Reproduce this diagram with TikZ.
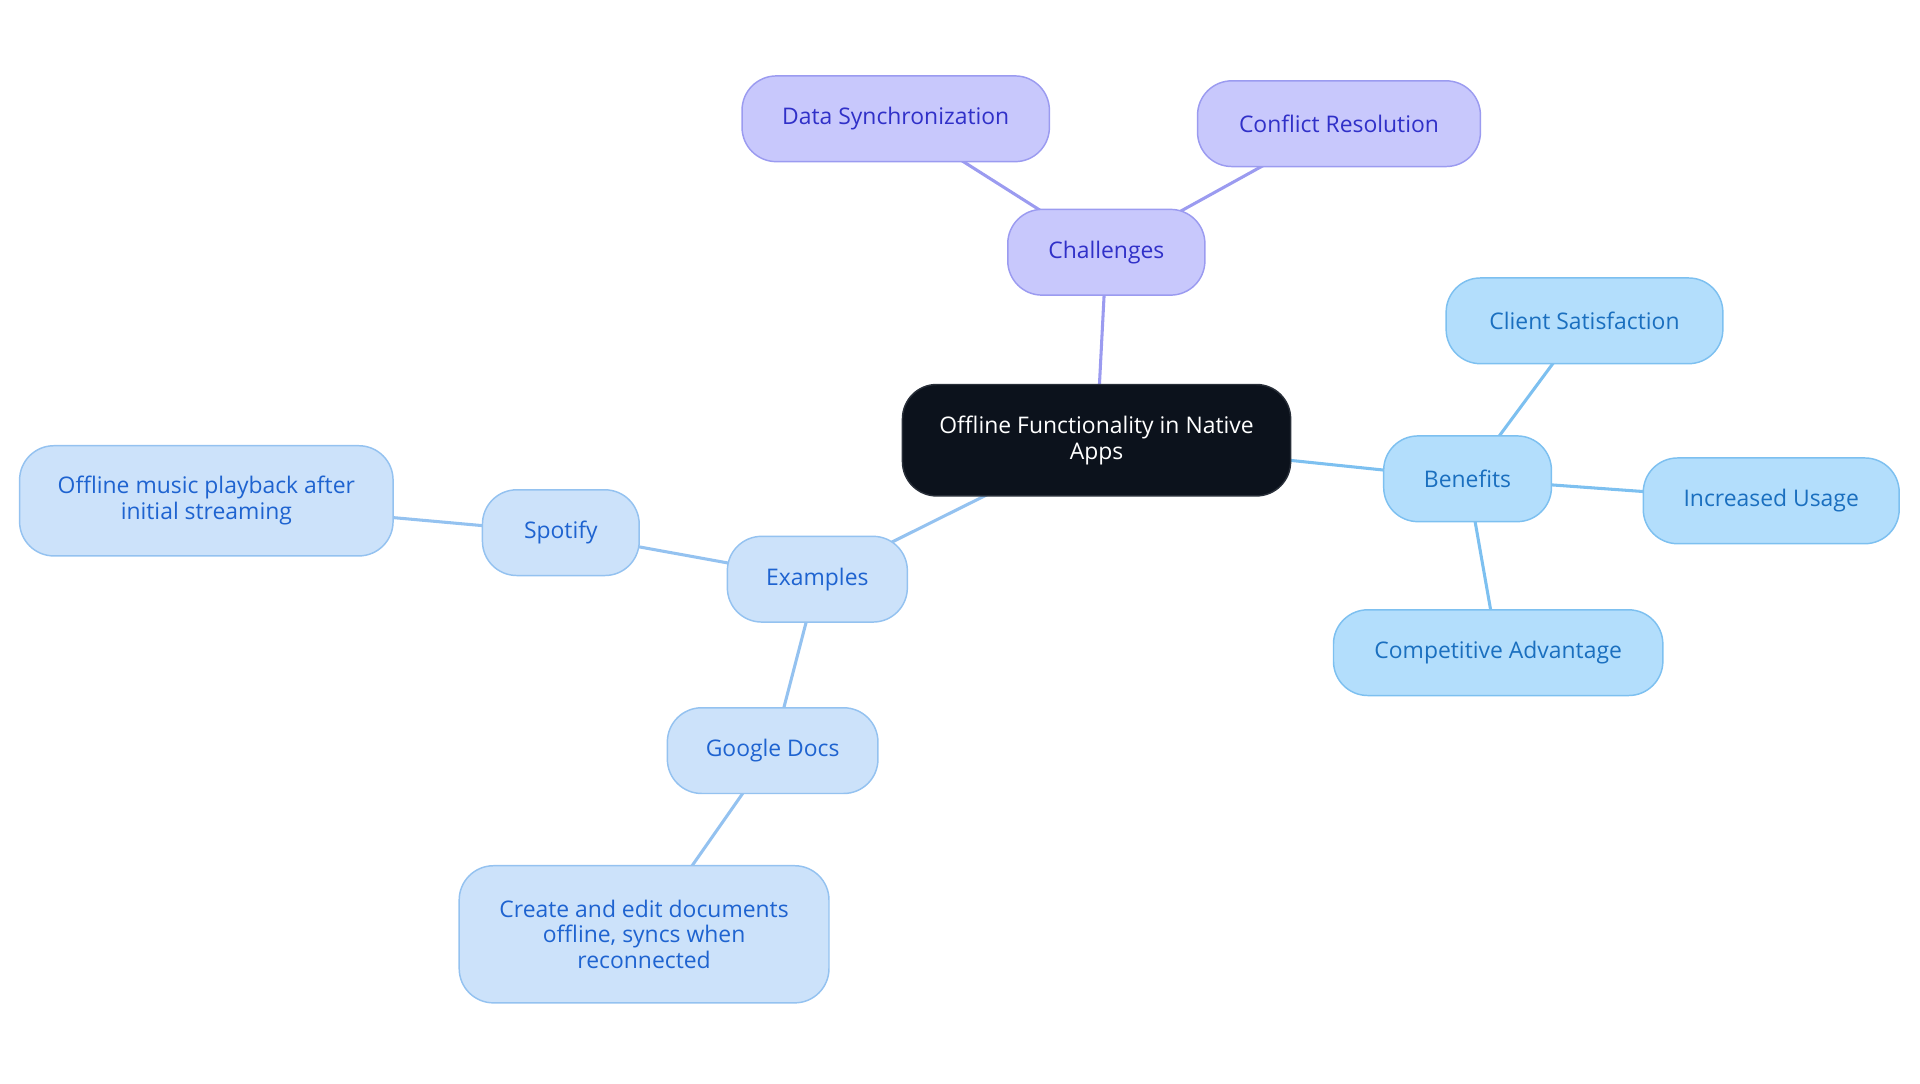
\documentclass[tikz,border=0pt]{standalone}
\usepackage{fontspec}
\setmainfont{Open Sans}
\usetikzlibrary{backgrounds}
\begin{document}
\begin{tikzpicture}[x=1pt,y=-1pt,
  base/.style={rounded corners=28pt, line width=1.2pt, align=center, inner sep=0pt,
    font=\fontsize{18.7}{21}\selectfont},
  purp/.style={base, fill=purpfill, draw=purpline, text=purptext},
  bene/.style={base, fill=benefill, draw=beneline, text=benetext},
  exam/.style={base, fill=examfill, draw=examline, text=examtext},
  central/.style={base, fill=darkfill, draw=darkline, text=white},
  pedge/.style={draw=purpline, line width=2.5pt},
  bedge/.style={draw=beneline, line width=2.5pt},
  eedge/.style={draw=examline, line width=2.5pt}]
\definecolor{purpfill}{RGB}{200,200,252}
\definecolor{purpline}{RGB}{155,155,240}
\definecolor{purptext}{RGB}{48,48,200}
\definecolor{benefill}{RGB}{179,222,252}
\definecolor{beneline}{RGB}{125,192,240}
\definecolor{benetext}{RGB}{26,111,191}
\definecolor{examfill}{RGB}{204,226,250}
\definecolor{examline}{RGB}{148,194,240}
\definecolor{examtext}{RGB}{30,99,208}
\definecolor{darkfill}{RGB}{12,18,28}
\definecolor{darkline}{RGB}{40,46,56}
\useasboundingbox (0,0) rectangle (1568,884.5);
% nodes
\node[central, minimum width=317pt, minimum height=91pt] (c) at (895.5,359.5) {Offline Functionality in Native\\Apps};
\node[purp, minimum width=161pt, minimum height=70pt] (ch) at (903.5,206) {Challenges};
\node[purp, minimum width=251pt, minimum height=70pt] (ds) at (731.5,97) {Data Synchronization};
\node[purp, minimum width=231pt, minimum height=70pt] (cr) at (1093.5,101) {Conflict Resolution};
\node[bene, minimum width=137pt, minimum height=70pt] (be) at (1198.5,391) {Benefits};
\node[bene, minimum width=226pt, minimum height=70pt] (cs) at (1294,262) {Client Satisfaction};
\node[bene, minimum width=209pt, minimum height=70pt] (iu) at (1446.5,409) {Increased Usage};
\node[bene, minimum width=269pt, minimum height=70pt] (ca) at (1223.5,533) {Competitive Advantage};
\node[exam, minimum width=147pt, minimum height=70pt] (ex) at (667.5,473) {Examples};
\node[exam, minimum width=128pt, minimum height=70pt] (sp) at (458,435) {Spotify};
\node[exam, minimum width=305pt, minimum height=90pt] (om) at (168.5,409) {Offline music playback after\\initial streaming};
\node[exam, minimum width=172pt, minimum height=70pt] (gd) at (631,613) {Google Docs};
\node[exam, minimum width=302pt, minimum height=112pt] (ce) at (526,763) {Create and edit documents\\offline, syncs when\\reconnected};
% edges
\begin{pgfonlayer}{background}
\draw[pedge] (ch.center) -- (c.center);
\draw[pedge] (ch.center) -- (ds.center);
\draw[pedge] (ch.center) -- (cr.center);
\draw[bedge] (c.center) -- (be.center);
\draw[bedge] (be.center) -- (cs.center);
\draw[bedge] (be.center) -- (iu.center);
\draw[bedge] (be.center) -- (ca.center);
\draw[eedge] (c.center) -- (ex.center);
\draw[eedge] (ex.center) -- (sp.center);
\draw[eedge] (sp.center) -- (om.center);
\draw[eedge] (ex.center) -- (gd.center);
\draw[eedge] (gd.center) -- (ce.center);
\end{pgfonlayer}
\end{tikzpicture}
\end{document}
